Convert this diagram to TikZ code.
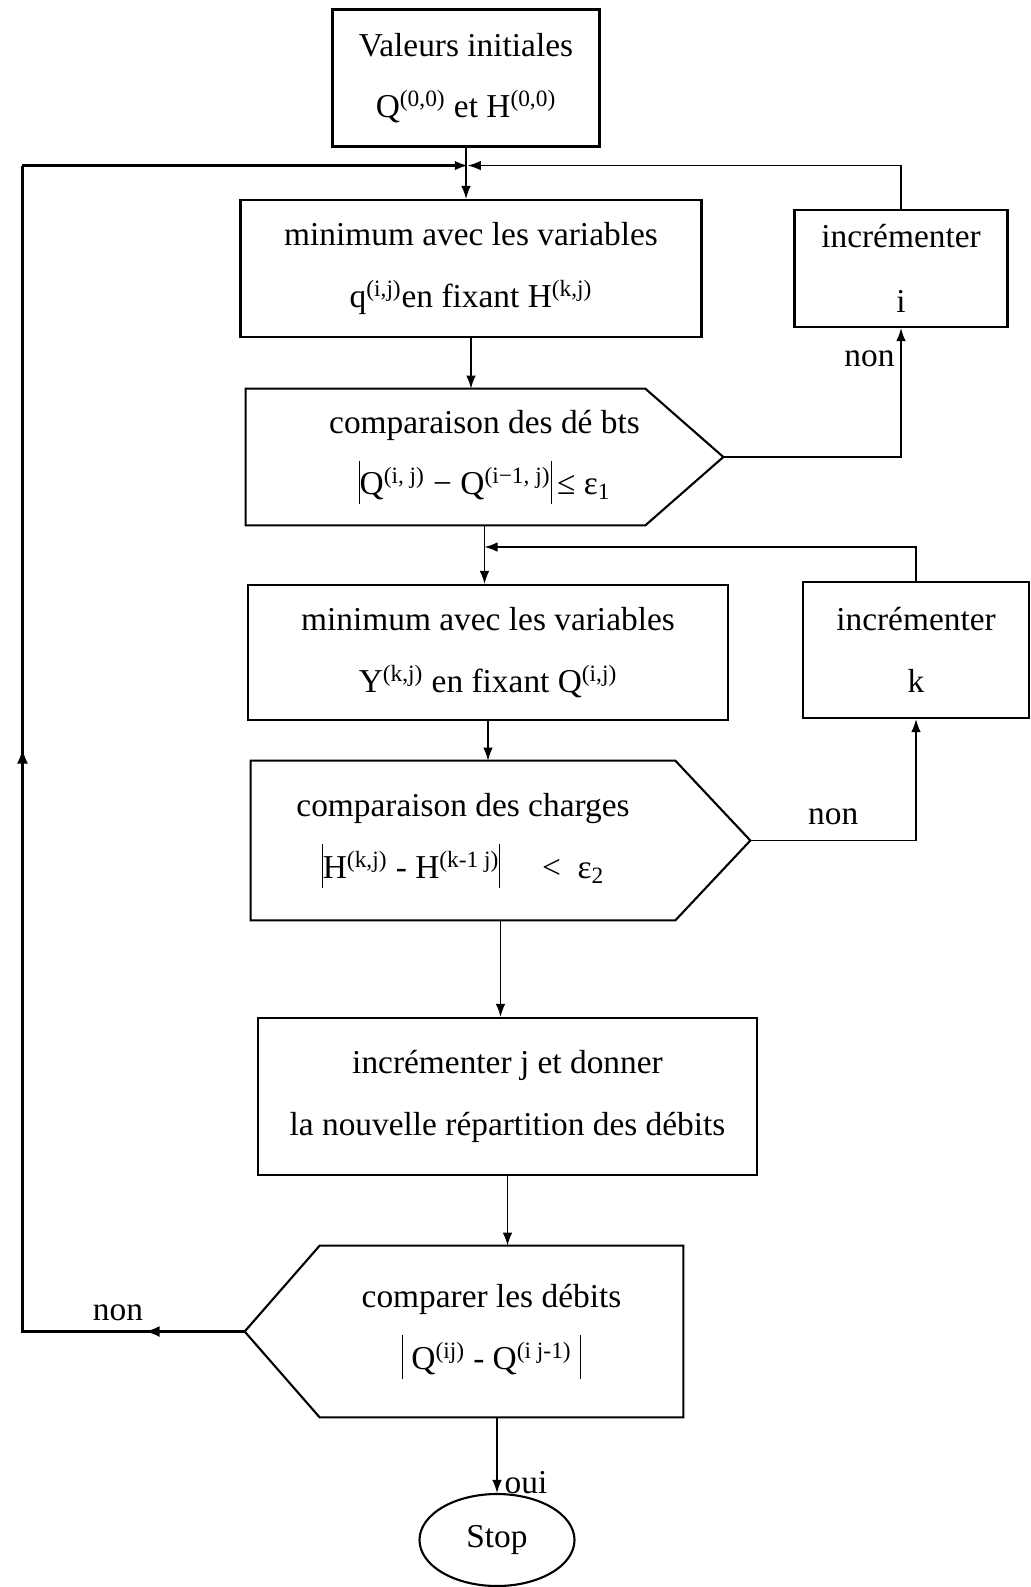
\documentclass[tikz,border=0pt]{standalone}
\usepackage{fontspec}
\setmainfont{Liberation Serif}
\usepackage{tikz}
\usetikzlibrary{arrows.meta, positioning, calc, shapes.geometric}
\newcommand{\vbar}{\rule[-0.28em]{0.6pt}{1.3em}}
\tikzset{
    box/.style={draw, line width=1.2pt, rectangle, align=center, inner sep=2pt},
    decision/.style={rectangle, align=center, inner sep=0pt},
    dectext/.style={align=center, inner sep=0pt},
    outline/.style={line width=1.2pt, line join=miter},
    link/.style={line width=0.8pt, -{Latex[length=2.6mm, width=1.9mm]}},
    loopline/.style={line width=1.5pt},
}
\begin{document}
\begin{tikzpicture}[>=Latex, font=\fontsize{19}{35}\selectfont]
    \useasboundingbox (0,0) rectangle (20.62,-31.74);
    % boxes
    \node[box, minimum width=5.34cm, minimum height=2.74cm] (init) at (9.32,-1.56) {Valeurs initiales\\Q\textsuperscript{(0,0)} et H\textsuperscript{(0,0)}};
    \node[box, minimum width=9.22cm, minimum height=2.74cm] (min1) at (9.42,-5.37) {minimum avec les variables\\q\textsuperscript{(i,j)}en fixant H\textsuperscript{(k,j)}};
    \node[box, minimum width=4.26cm, minimum height=2.34cm] (inci) at (18.02,-5.37) {incrémenter\\[2pt]i};
    \node[decision, minimum width=9.54cm, minimum height=2.72cm] (cmp1) at (9.69,-9.14) {comparaison des dé bts\\\vbar Q\textsuperscript{(i, j)} − Q\textsuperscript{(i−1, j)}\vbar\,≤ ε\textsubscript{1}};
    \node[box, minimum width=9.6cm, minimum height=2.7cm] (min2) at (9.76,-13.05) {minimum avec les variables\\Y\textsuperscript{(k,j)} en fixant Q\textsuperscript{(i,j)}};
    \node[box, minimum width=4.52cm, minimum height=2.72cm] (inck) at (18.32,-13.0) {incrémenter\\k};
    \node[decision, minimum width=9.98cm, minimum height=3.18cm,
          label={[dectext, xshift=-0.75cm]center:{comparaison des charges\\\vbar H\textsuperscript{(k,j)} - H\textsuperscript{(k-1 j)}\vbar\quad\ <\ \ ε\textsubscript{2}}}] (cmp2) at (10.01,-16.81) {};
    \node[box, minimum width=9.98cm, minimum height=3.14cm] (incj) at (10.15,-21.93) {incrémenter j et donner\\la nouvelle répartition des débits};
    \node[decision, minimum width=8.76cm, minimum height=3.42cm,
          label={[dectext, xshift=0.55cm]center:{comparer les débits\\\vbar\ Q\textsuperscript{(ij)} - Q\textsuperscript{(i j-1)}\ \vbar}}] (cmp3) at (9.28,-26.63) {};
    \node[ellipse, draw, line width=1.2pt, minimum width=3.1cm, minimum height=1.84cm, inner sep=0pt] (stop) at (9.94,-30.8) {Stop};

    % decision outlines
    \draw[outline] (cmp1.north west) -- ($(cmp1.north east)+(-1.56,0)$) -- (cmp1.east) -- ($(cmp1.south east)+(-1.56,0)$) -- (cmp1.south west) -- cycle;
    \draw[outline] (cmp2.north west) -- ($(cmp2.north east)+(-1.5,0)$) -- (cmp2.east) -- ($(cmp2.south east)+(-1.5,0)$) -- (cmp2.south west) -- cycle;
    \draw[outline] (cmp3.west) -- ($(cmp3.north west)+(1.5,0)$) -- (cmp3.north east) -- (cmp3.south east) -- ($(cmp3.south west)+(1.5,0)$) -- cycle;

    % junctions
    \coordinate (m1) at ($(init.south)!0.35!(min1.north)$);
    \coordinate (m2) at ($(cmp1.south)!0.37!(cmp1.south |- min2.north)$);
    \coordinate (lb) at (0.45,-26.63);
    \coordinate (lt) at (lb |- m1);

    % main flow
    \draw[link] (init) -- (init.south |- min1.north);
    \draw[link] (min1.south) -- (min1.south |- cmp1.north);
    \draw[link] (cmp1.south) -- (cmp1.south |- min2.north);
    \draw[link] (min2.south) -- (min2.south |- cmp2.north);
    \draw[link] (cmp2.south) -- (cmp2.south |- incj.north);
    \draw[link] (incj.south) -- (incj.south |- cmp3.north);
    \draw[link] (stop.north |- cmp3.south) -- node[pos=0.86, right, inner sep=4pt] {oui} (stop.north);

    % loop on i
    \draw[link] (cmp1.east) -| node[pos=0.88, left] {non} (inci.south);
    \draw[link] (inci.north) |- (m1);

    % loop on k
    \draw[link] (cmp2.east) -| node[pos=0.25, above=5pt] {non} (inck.south);
    \draw[link] (inck.north) |- (m2);

    % loop on j
    \draw[loopline] (cmp3.west) -- node[pos=0.57, above=2pt] {non} (lb) -- (lt);
    \draw[loopline, -{Latex[length=3mm, width=2.2mm]}] (cmp3.west) -- ($(cmp3.west)!0.45!(lb)$);
    \draw[loopline, -{Latex[length=3mm, width=2.2mm]}] (lb) -- ($(lb)!0.5!(lt)$);
    \draw[link, line width=1.2pt] (lt) -- (m1);
\end{tikzpicture}
\end{document}
